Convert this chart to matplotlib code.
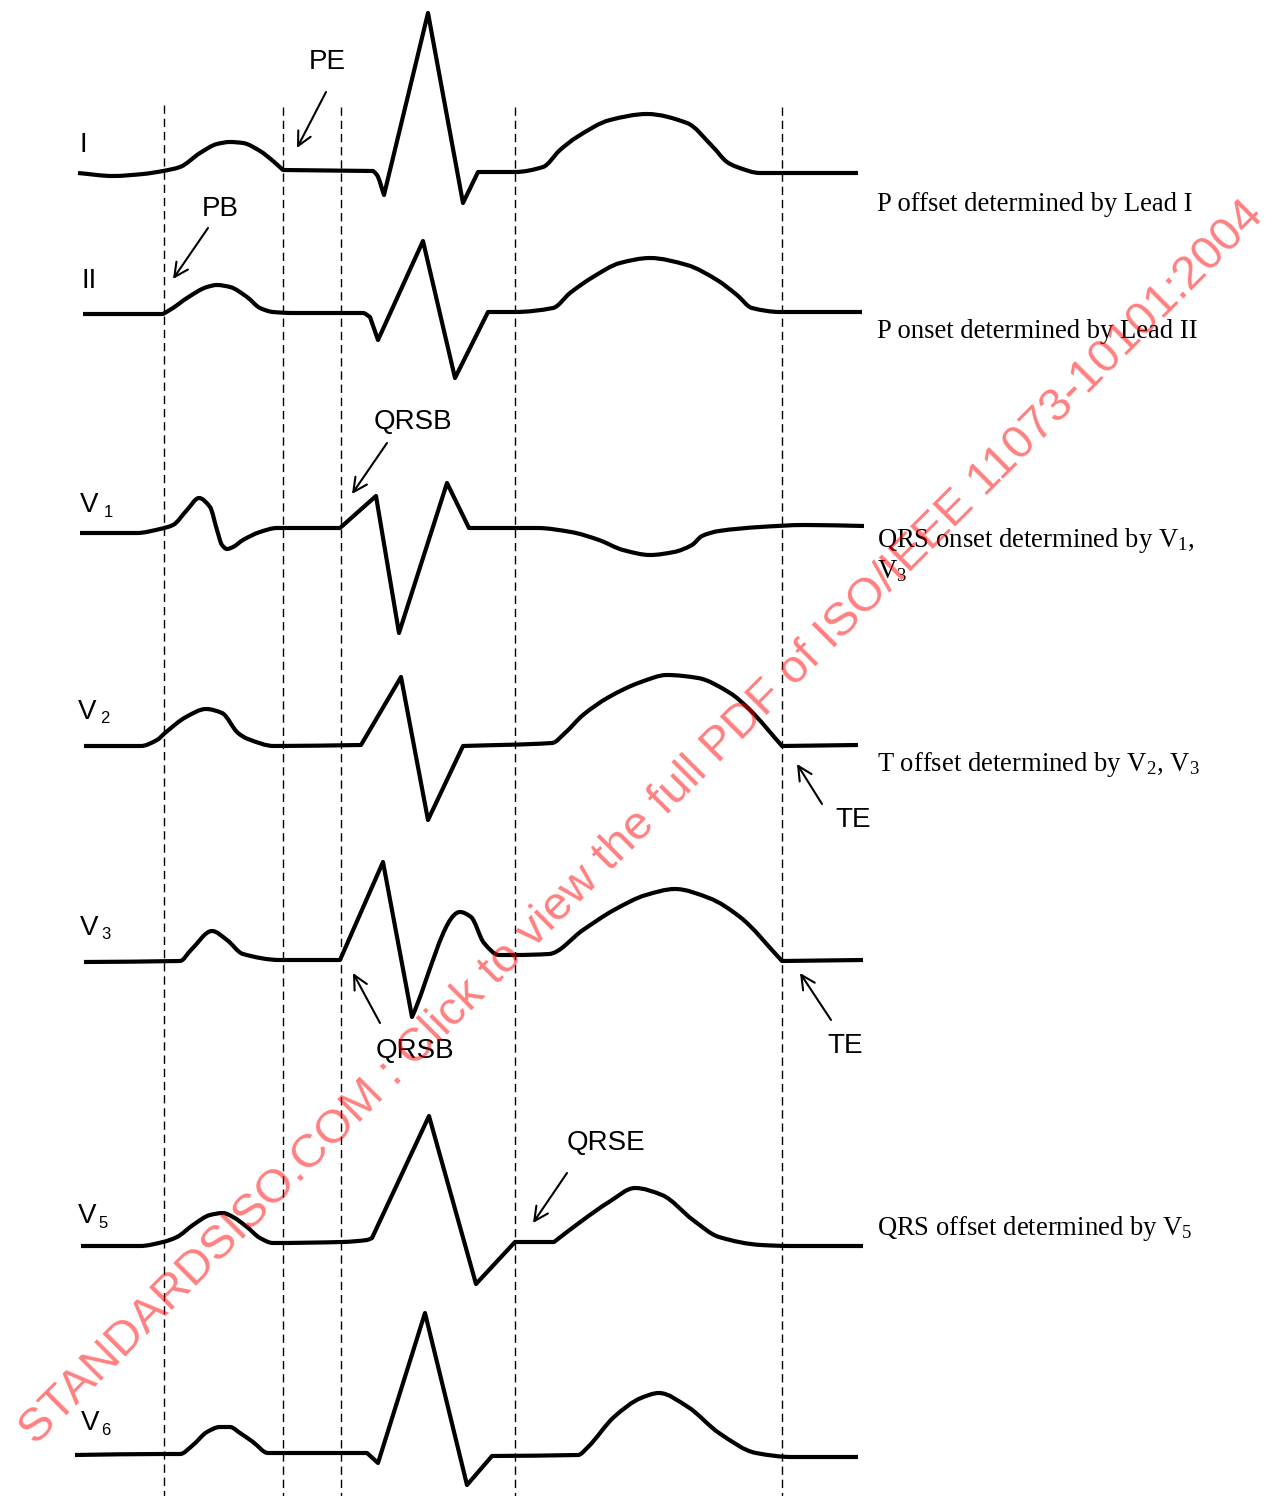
import matplotlib.pyplot as plt
from matplotlib.path import Path
from matplotlib.patches import PathPatch

plt.rcParams['mathtext.fontset'] = 'custom'
plt.rcParams['mathtext.rm'] = 'Liberation Serif'
plt.rcParams['mathtext.it'] = 'Liberation Serif:italic'

# waveform samples: time (px along the strip) and amplitude (px above baseline)
LEAD_NAMES = ['I', 'II', 'V1', 'V2', 'V3', 'V5', 'V6']
BASELINES = [172, 313, 528, 746, 960, 1245, 1455]

I_T = [78, 113, 143, 163, 180, 200, 217, 230, 243, 260, 273, 283, 373, 377, 384, 428, 463, 478,
       515, 543, 560, 577, 610, 647, 687, 713, 727, 737, 760, 782, 858]
I_A = [-1, -4, -2, 1, 5, 19, 28, 30, 29, 21, 11, 2, 1, -3, -23, 159, -31, 0,
       0, 5, 22, 35, 52, 58, 49, 25, 10, 5, -1, -1, -1]

II_T = [83, 163, 173, 187, 207, 217, 230, 247, 260, 273, 293, 363, 370, 378, 423, 455, 488,
        515, 553, 570, 593, 620, 650, 687, 717, 737, 752, 780, 862]
II_A = [-1, -1, 5, 15, 26, 28, 26, 16, 5, 1, 0, 0, -4, -27, 72, -65, 1,
        1, 5, 20, 36, 50, 55, 48, 33, 18, 5, 1, 1]

V1_T = [80, 137, 160, 173, 187, 199, 210, 217, 222, 227, 233, 243, 260, 277, 340, 376, 399,
        447, 469, 537, 571, 599, 623, 650, 674, 692, 702, 719, 760, 805, 864]
V1_A = [-5, -5, -1, 3, 18, 30, 21, -2, -17, -21, -19, -12, -4, 0, 0, 32, -105,
        45, 0, 0, -4, -12, -22, -27, -24, -17, -8, -3, 1, 3, 2]

V2_T = [84, 141, 157, 165, 186, 206, 222, 238, 248, 274, 361, 401, 428, 463, 552, 565, 583,
        609, 641, 667, 698, 730, 750, 782, 858]
V2_A = [0, 0, 6, 13, 29, 37, 33, 13, 7, 0, 1, 69, -74, 0, 3, 13, 31,
        49, 64, 71, 68, 53, 36, 0, 1]

V3_T = [84, 180, 191, 212, 227, 243, 280, 340, 383, 412, 460, 471, 484, 499, 515, 549, 583,
        614, 646, 675, 709, 740, 782, 863]
V3_A = [-2, -1, 10, 29, 20, 6, 0, 0, 98, -57, 48, 43, 17, 5, 5, 6, 30,
        50, 65, 71, 62, 43, -1, 0]

V5_T = [81, 140, 163, 177, 193, 210, 223, 233, 247, 260, 273, 342, 367, 372, 429, 476, 515,
        554, 583, 609, 635, 662, 693, 719, 761, 792, 863]
V5_A = [-1, -1, 3, 8, 20, 30, 32, 28, 18, 7, 2, 3, 5, 7, 129, -39, 3,
        3, 25, 43, 57, 50, 25, 8, 0, -1, -1]

V6_T = [75, 160, 180, 193, 207, 220, 230, 240, 253, 268, 367, 378, 425, 467, 492, 578, 588,
        614, 641, 659, 688, 719, 756, 792, 858]
V6_A = [0, 1, 1, 10, 23, 28, 28, 22, 13, 2, 2, -8, 142, -30, -1, 0, 8,
        38, 57, 62, 48, 22, 2, -2, -2]

LEADS_T = [I_T, II_T, V1_T, V2_T, V3_T, V5_T, V6_T]
LEADS_A = [I_A, II_A, V1_A, V2_A, V3_A, V5_A, V6_A]

# samples where the trace has a sharp corner (the rest is drawn smooth)
CORNERS = [
    [283, 373, 384, 428, 463, 478],
    [163, 370, 378, 423, 455, 488],
    [340, 376, 399, 447, 469],
    [361, 401, 428, 463, 782],
    [340, 383, 412, 782],
    [372, 429, 476, 515, 554],
    [367, 378, 425, 467, 492],
]

# fiducial marker times (dashed verticals)
MARKER_T = [164, 283, 341, 515, 782]
MARKER_TOP = [105, 107, 107, 107, 107]


def trace_path(xs, ys, corners):
    """Monotone cubic (Fritsch-Carlson) path through samples, sharp at corners."""
    n = len(xs)
    d = [(ys[i + 1] - ys[i]) / (xs[i + 1] - xs[i]) for i in range(n - 1)]
    m_in, m_out = [0.0] * n, [0.0] * n
    for i in range(n):
        if i == 0:
            m_in[i] = m_out[i] = d[0]
        elif i == n - 1:
            m_in[i] = m_out[i] = d[-1]
        elif xs[i] in corners:
            m_in[i], m_out[i] = d[i - 1], d[i]
        else:
            a, b = d[i - 1], d[i]
            m = 0.0 if a * b <= 0 else 2 * a * b / (a + b)
            m_in[i] = m_out[i] = m
    verts = [(xs[0], ys[0])]
    codes = [Path.MOVETO]
    for i in range(n - 1):
        h = xs[i + 1] - xs[i]
        verts += [(xs[i] + h / 3, ys[i] + m_out[i] * h / 3),
                  (xs[i + 1] - h / 3, ys[i + 1] - m_in[i + 1] * h / 3),
                  (xs[i + 1], ys[i + 1])]
        codes += [Path.CURVE4] * 3
    return Path(verts, codes)


fig = plt.figure(figsize=(12.8, 14.96), dpi=100)
ax = fig.add_axes([0, 0, 1, 1])
ax.set_xlim(0, 1280)
ax.set_ylim(1496, 0)
ax.axis('off')

for t, top in zip(MARKER_T, MARKER_TOP):
    ax.plot([t, t], [top, 1496], color='black', lw=1.0, linestyle=(0, (6, 3.5)))

for t, a, base, corners in zip(LEADS_T, LEADS_A, BASELINES, CORNERS):
    path = trace_path(t, [base - v for v in a], corners)
    ax.add_patch(PathPatch(path, facecolor='none', edgecolor='black', lw=3.0,
                           joinstyle='round', capstyle='butt'))

sans = dict(family='Liberation Sans', fontsize=20, color='black', va='baseline', ha='left')

# lead names
ax.text(80, 152, 'I', **sans)
ax.text(82, 288, 'II', **sans)
lead_v = [('1', 80, 512, 104, 517), ('2', 78, 719, 100, 723), ('3', 80, 935, 101, 939),
          ('5', 78, 1223, 98, 1228), ('6', 81, 1430, 101, 1435)]
for sub, vx, vy, sx, sy in lead_v:
    ax.text(vx, vy, 'V', **sans)
    ax.text(sx, sy, sub, family='Liberation Sans', fontsize=12, va='baseline', ha='left')

# annotations with arrows
arrow_kw = dict(arrowstyle='->,head_length=0.5,head_width=0.25', lw=1.5, color='black',
                mutation_scale=20, shrinkA=0, shrinkB=0)
arrows = [((326, 92), (297, 148)), ((208, 228), (173, 279)), ((387, 443), (352, 494)),
          ((822, 804), (797, 764)), ((380, 1023), (353, 973)), ((831, 1020), (800, 973)),
          ((567, 1173), (533, 1223))]
for tail, head in arrows:
    ax.annotate('', xy=head, xytext=tail, arrowprops=arrow_kw)

ax.text(309, 69, 'PE', **sans)
ax.text(202, 216, 'PB', **sans)
ax.text(374, 429, 'QRSB', **sans)
ax.text(376, 1058, 'QRSB', **sans)
ax.text(835, 827, 'TE', **sans)
ax.text(827, 1053, 'TE', **sans)
ax.text(567, 1150, 'QRSE', **sans)

serif = dict(family='Liberation Serif', fontsize=19.2, color='black', va='baseline', ha='left')
ax.text(877, 211, 'P offset determined by Lead I', **serif)
ax.text(877, 338, 'P onset determined by Lead II', **serif)
ax.text(877, 547, r'QRS onset determined by $\mathrm{V}_1$,', **serif)
ax.text(877, 578, r'$\mathrm{V}_3$', **serif)
ax.text(877, 771, r'T offset determined by $\mathrm{V}_2$, $\mathrm{V}_3$', **serif)
ax.text(877, 1235, r'QRS offset determined by $\mathrm{V}_5$', **serif)

# watermark
ax.text(642, 823, 'STANDARDSISO.COM : Click to view the full PDF of ISO/IEEE 11073-10101:2004',
        family='Liberation Sans', fontsize=34.2, color='red', alpha=0.5, rotation=45,
        ha='center', va='center', rotation_mode='anchor', zorder=10)

fig.savefig('out.png', dpi=100)
